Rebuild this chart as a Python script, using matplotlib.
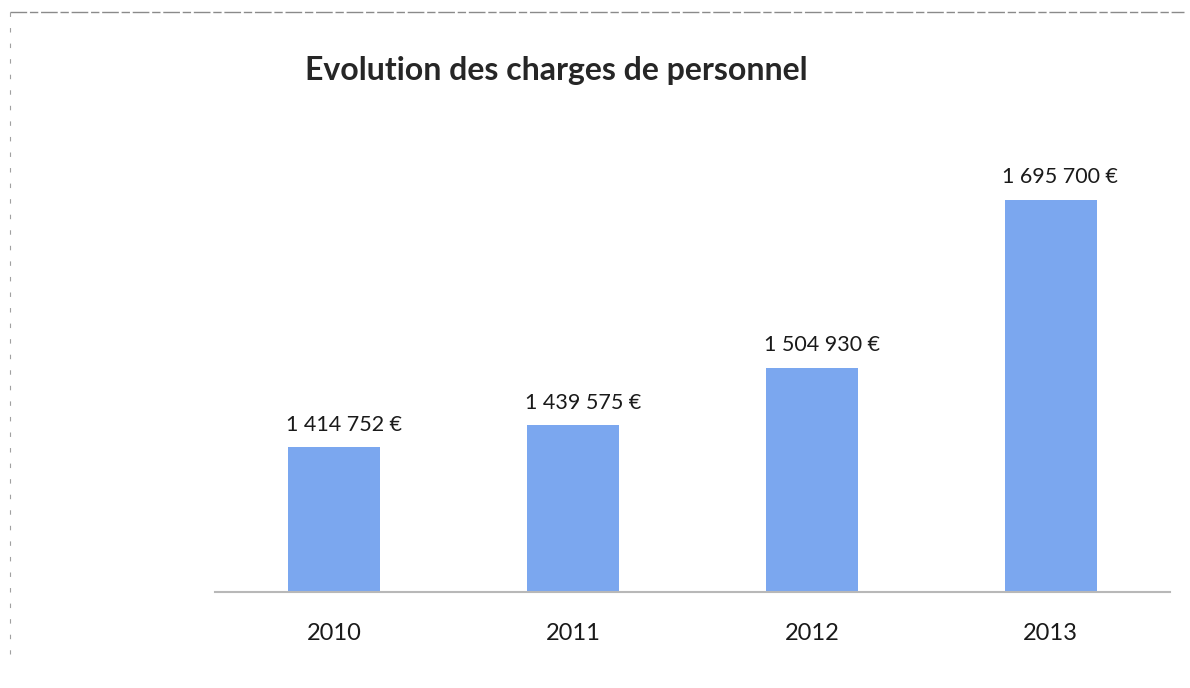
import matplotlib.pyplot as plt
from matplotlib.lines import Line2D

# Personnel costs per year, in euros
years = ["2010", "2011", "2012", "2013"]
charges = [1414752, 1439575, 1504930, 1695700]

plt.rcParams["font.family"] = ["Lato", "DejaVu Sans"]

fig = plt.figure(figsize=(11.9, 6.88), dpi=100)
ax = fig.add_axes([0.1807, 0.1395, 0.8025, 0.6395])

x = range(len(years))
bars = ax.bar(x, charges, width=0.385, color="#7ba7ef", zorder=2)

ax.set_xlim(-0.5, len(years) - 0.5)
ax.set_ylim(1250000, 1750000)

def euro(v):
    return f"{v:,.0f}".replace(",", " ") + " €"

for rect, v in zip(bars, charges):
    ax.annotate(euro(v), (rect.get_x() + rect.get_width() / 2, v),
                xytext=(7, 9), textcoords="offset points",
                ha="center", va="bottom", fontsize=15.5, color="#1a1a1a")

ax.set_xticks(list(x))
ax.set_xticklabels(years, fontsize=17, color="#1a1a1a")
ax.tick_params(axis="x", length=0, pad=22)
ax.set_yticks([])
for side in ["top", "left", "right"]:
    ax.spines[side].set_visible(False)
ax.spines["bottom"].set_color("#b8b8b8")
ax.spines["bottom"].set_linewidth(1.5)

fig.text(0.256, 0.897, "Evolution des charges de personnel",
         fontsize=23, fontweight="bold", color="#262626", va="center")

# thin grey frame along the top and left edge
fig.add_artist(Line2D([0.008, 0.995], [0.982, 0.982], transform=fig.transFigure,
                      color="#8a8a8a", linewidth=1.0, linestyle=(0, (12, 2, 6, 2))))
fig.add_artist(Line2D([0.008, 0.008], [0.982, 0.05], transform=fig.transFigure,
                      color="#a0a0a0", linewidth=0.8, linestyle=(0, (4, 10))))

fig.savefig("out.png", dpi=100)
